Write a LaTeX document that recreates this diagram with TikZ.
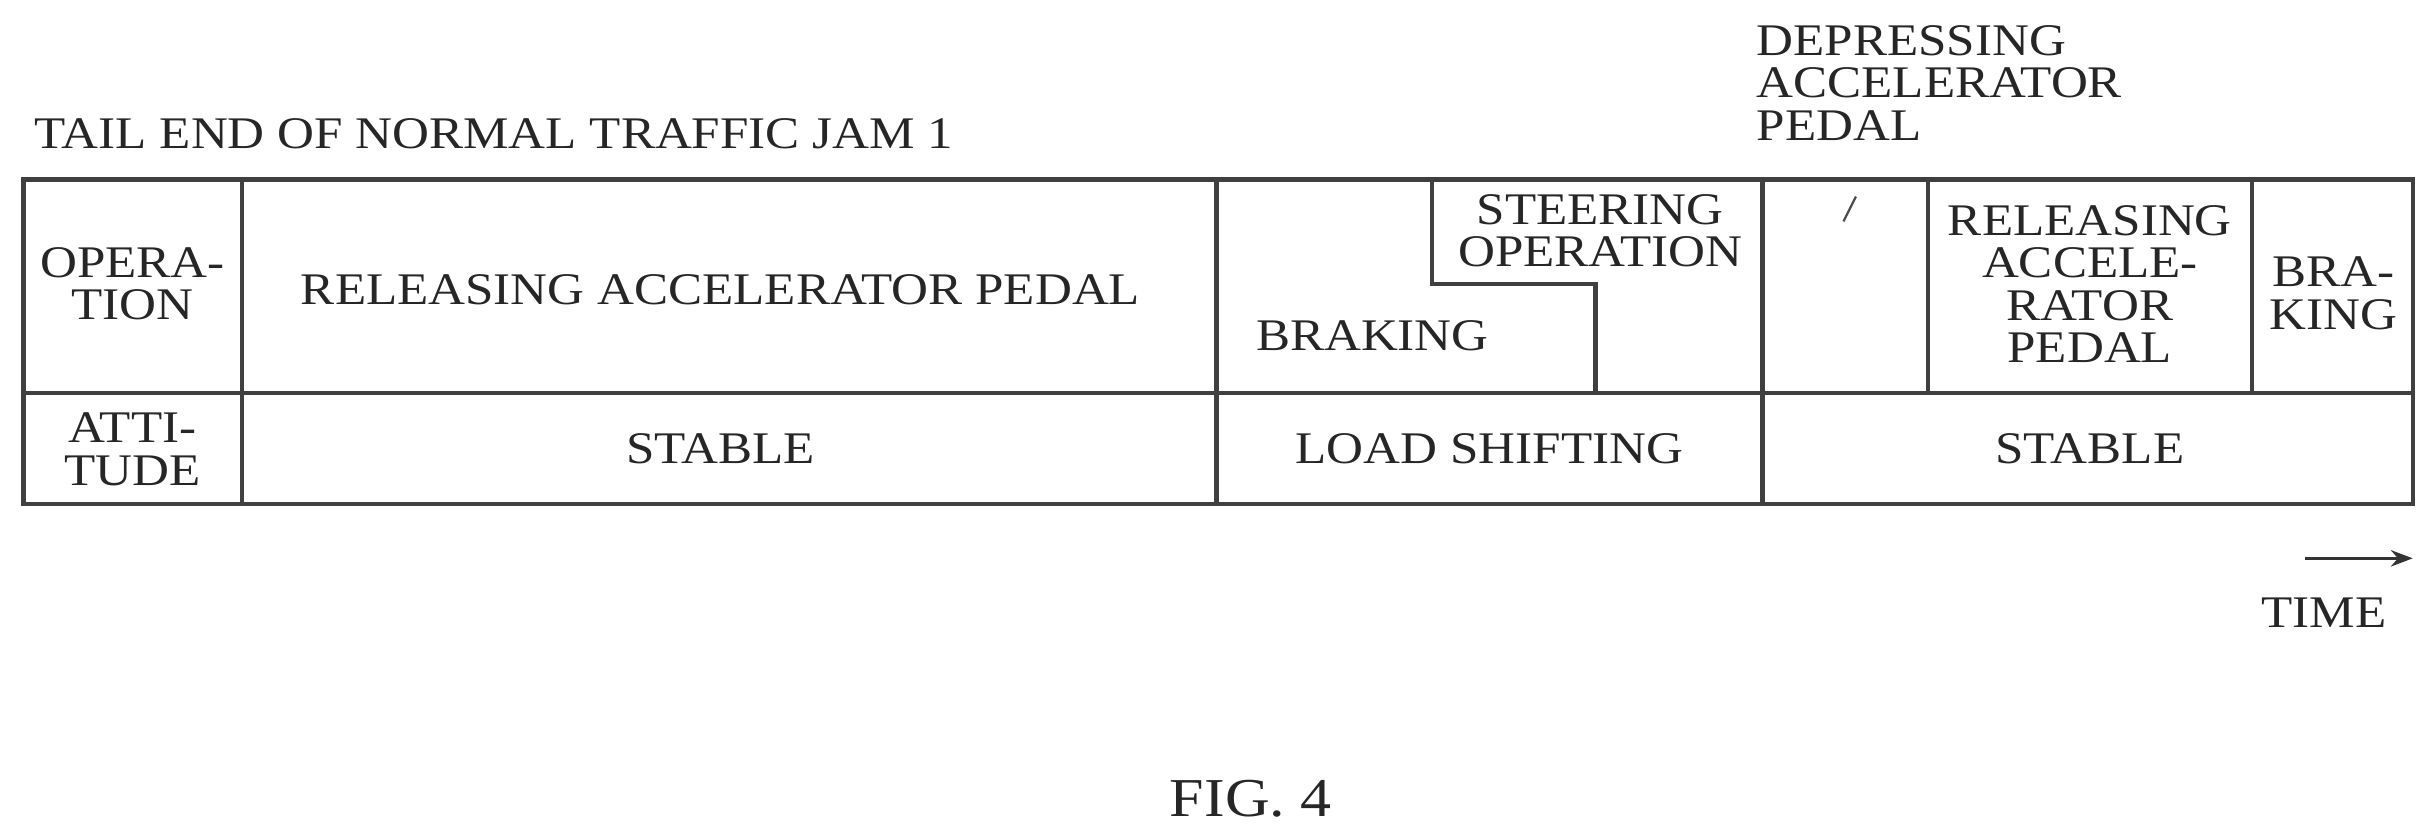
\documentclass[tikz,border=0pt]{standalone}
\usepackage{fontspec}
\setmainfont{Liberation Serif}[FakeStretch=1.13]
\usetikzlibrary{arrows.meta}
\begin{document}
\begin{tikzpicture}[x=0.02cm,y=-0.02cm,
   frame/.style={black!75,line width=1.6pt},
   lbl/.style={font=\fontsize{16.5}{15.5}\selectfont,align=center,inner sep=0pt,text=black!85}]
   \useasboundingbox (0,0) rectangle (1560,536);
   % table frame
   \draw [frame] (15,115) rectangle (1547,323);
   \draw [frame] (15,252) -- (1547,252);
   \foreach \x in {155,780,1130}
      \draw [frame] (\x,115) -- (\x,323);
   \foreach \x in {1236,1444}
      \draw [frame] (\x,115) -- (\x,252);
   \draw [frame] (918,115) -- (918,182) -- (1023,182) -- (1023,252);
   % texts
   \node [lbl,anchor=west] (title) at (22,86) {TAIL END OF NORMAL TRAFFIC JAM 1};
   \node [lbl,anchor=north west,align=left] (depress) at (1126,16) {DEPRESSING\\ACCELERATOR\\PEDAL};
   \coordinate (lead) at (1182,142);
   \draw [black!70,line width=0.8pt] (lead) -- ++(8,-16);
   \node [lbl] (op) at (85,182) {OPERA-\\TION};
   \node [lbl] (att) at (85,288) {ATTI-\\TUDE};
   \node [lbl] (release) at (462,186) {RELEASING ACCELERATOR PEDAL};
   \node [lbl,anchor=west] (brake) at (805,215) {BRAKING};
   \node [lbl] (steer) at (1026,148) {STEERING\\OPERATION};
   \node [lbl] (release2) at (1340,182) {RELEASING\\ACCELE-\\RATOR\\PEDAL};
   \node [lbl] (brake2) at (1496,188) {BRA-\\KING};
   \node [lbl] (stable) at (462,288) {STABLE};
   \node [lbl] (load) at (955,288) {LOAD SHIFTING};
   \node [lbl] (stable2) at (1340,288) {STABLE};
   % time arrow
   \coordinate (t0) at (1478,358);
   \coordinate (t1) at (1547,358);
   \draw [black!80,line width=1pt,-{Stealth[length=8pt]}] (t0) -- (t1);
   \node [lbl] (time) at (1490,393) {TIME};
   \node [lbl,font=\fontsize{20}{20}\selectfont] (fig) at (802,512) {FIG. 4};
\end{tikzpicture}
\end{document}
